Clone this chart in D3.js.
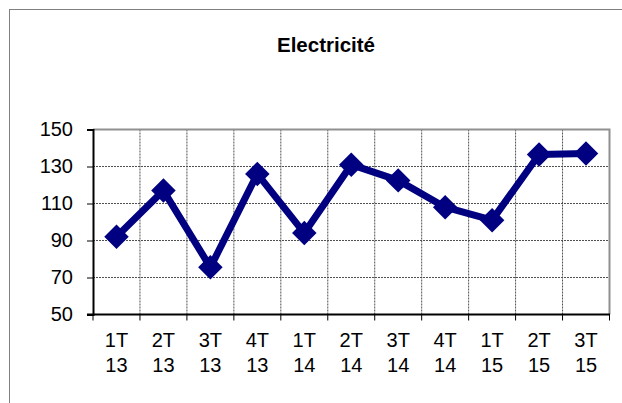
<!doctype html>
<html>
<head>
<meta charset="utf-8">
<script src="https://d3js.org/d3.v7.min.js"></script>
<style>
  body {margin: 0; background: #fff;}
  text {font-family: "Liberation Sans", Arial, sans-serif; fill: #000;}
</style>
</head>
<body>
<svg width="622" height="403"></svg>
<script>
// values
var quarters = ["1T", "2T", "3T", "4T", "1T", "2T", "3T", "4T", "1T", "2T", "3T"];
var years = ["13", "13", "13", "13", "14", "14", "14", "14", "15", "15", "15"];
var values = [92, 117, 75.5, 126, 94, 131, 122.5, 108, 101, 136.5, 137];
var yTicks = [50, 70, 90, 110, 130, 150];

var svg = d3.select("svg");
var plotL = 93, plotT = 129.5, plotR = 609.5, plotB = 314.5;

var cats = d3.range(values.length);
var x = d3.scaleBand().domain(cats).range([plotL, plotR]);
var y = d3.scaleLinear().domain([50, 150]).range([plotB, plotT]);

// outer chart frame (runs off the right and bottom edges)
svg.append("rect")
    .attr("x", 9.5).attr("y", 9.5).attr("width", 700).attr("height", 500)
    .attr("fill", "none").attr("stroke", "#808080").attr("stroke-width", 1);

svg.append("text")
    .attr("x", 326).attr("y", 51.5)
    .attr("text-anchor", "middle")
    .style("font-size", "20.5px").style("font-weight", "bold")
    .text("Electricité");

// grid lines
svg.append("g").selectAll("line")
    .data(yTicks.filter(function(d) { return d > 50 && d < 150; }))
    .enter().append("line")
      .attr("x1", plotL).attr("x2", plotR)
      .attr("y1", function(d) { return y(d); }).attr("y2", function(d) { return y(d); })
      .attr("stroke", "#505050").attr("stroke-dasharray", "2,1");

svg.append("g").selectAll("line")
    .data(cats.slice(1))
    .enter().append("line")
      .attr("x1", function(d) { return x(d); }).attr("x2", function(d) { return x(d); })
      .attr("y1", plotT).attr("y2", plotB)
      .attr("stroke", "#505050").attr("stroke-dasharray", "2,1");

// plot area top/right border
svg.append("path")
    .attr("d", "M" + plotL + "," + plotT + "H" + plotR + "V" + plotB)
    .attr("fill", "none").attr("stroke", "#909090").attr("stroke-width", 2);

// y axis
var yAxis = svg.append("g")
    .attr("transform", "translate(" + plotL + ",0)")
    .call(d3.axisLeft(y).tickValues(yTicks).tickSize(6).tickPadding(14));
yAxis.select(".domain").attr("stroke-width", 2);
yAxis.selectAll("text").style("font-size", "20px").attr("fill", "#000");

// x axis: ticks at category boundaries, labels on two lines
var xAxis = svg.append("g")
    .attr("transform", "translate(0," + plotB + ")");
xAxis.append("line")
    .attr("x1", plotL - 6).attr("x2", plotR + 0.5)
    .attr("stroke", "#000").attr("stroke-width", 2);
xAxis.selectAll("line.tick")
    .data(cats.concat([values.length]))
    .enter().append("line").attr("class", "tick")
      .attr("x1", function(d) { return d < values.length ? x(d) : plotR; })
      .attr("x2", function(d) { return d < values.length ? x(d) : plotR; })
      .attr("y1", 0).attr("y2", 6)
      .attr("stroke", "#000");
xAxis.selectAll("text.q")
    .data(cats)
    .enter().append("text").attr("class", "q")
      .attr("x", function(d) { return x(d) + x.bandwidth() / 2; })
      .attr("y", 32)
      .attr("text-anchor", "middle").style("font-size", "20px")
      .text(function(d) { return quarters[d]; });
xAxis.selectAll("text.yr")
    .data(cats)
    .enter().append("text").attr("class", "yr")
      .attr("x", function(d) { return x(d) + x.bandwidth() / 2; })
      .attr("y", 57)
      .attr("text-anchor", "middle").style("font-size", "20px")
      .text(function(d) { return years[d]; });

// series line
var cx = function(d, i) { return x(i) + x.bandwidth() / 2; };
svg.append("path")
    .datum(values)
    .attr("d", d3.line().x(cx).y(function(d) { return y(d); }))
    .attr("fill", "none").attr("stroke", "#000080").attr("stroke-width", 7)
    .attr("stroke-linejoin", "round");

// diamond markers
svg.append("g").selectAll("path")
    .data(values)
    .enter().append("path")
      .attr("d", d3.symbol().type(d3.symbolSquare).size(300))
      .attr("transform", function(d, i) { return "translate(" + cx(d, i) + "," + y(d) + ") rotate(45)"; })
      .attr("fill", "#000080");
</script>
</body>
</html>
